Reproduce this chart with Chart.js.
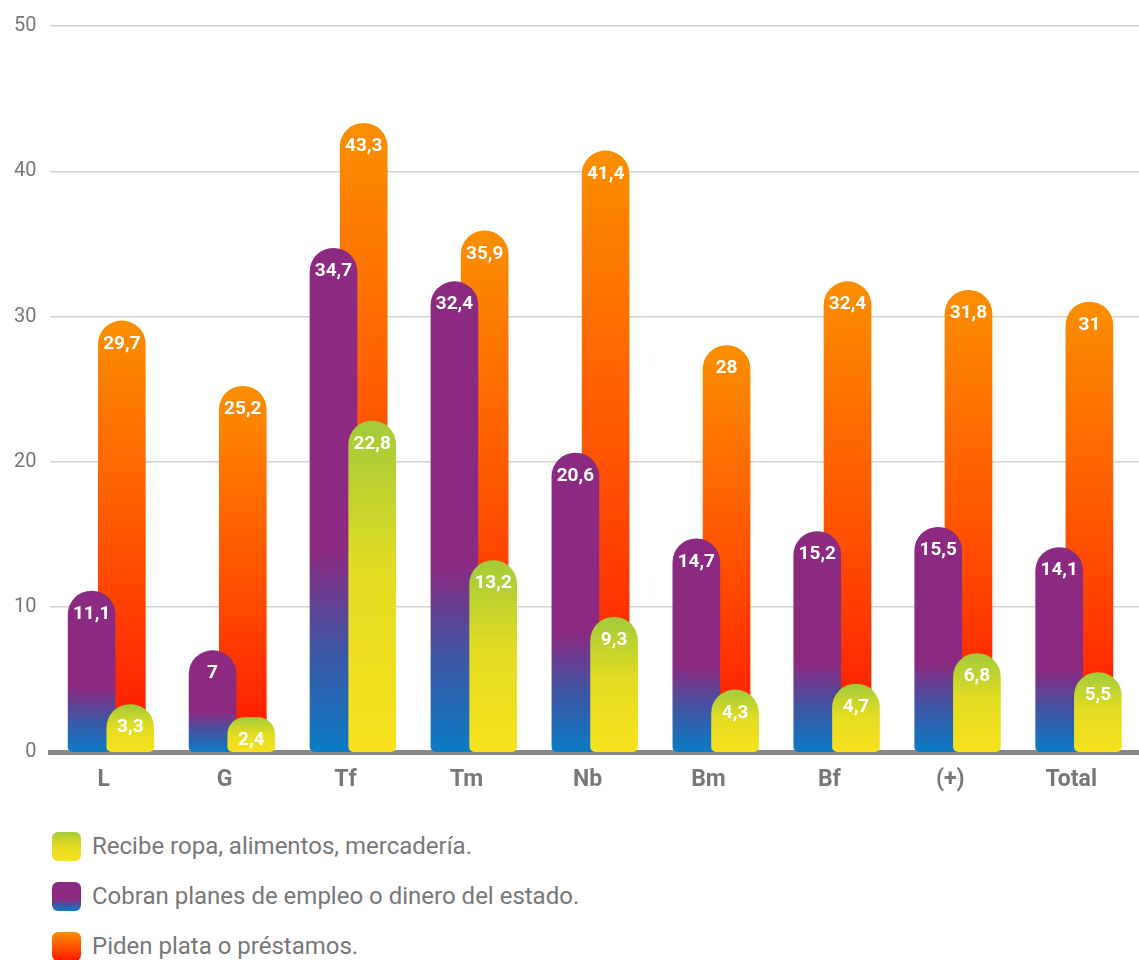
<!DOCTYPE html>
<html>
<head>
<meta charset="utf-8">
<script src="https://cdn.jsdelivr.net/npm/chart.js@4"></script>
<style>
  body { margin: 0; background: #fff; font-family: Roboto, sans-serif; }
  #wrap { position: relative; width: 1139px; height: 810px; }
  #legend { margin: 11px 0 0 52px; }
  .item { display: flex; align-items: center; height: 50px; color: #777; font-size: 24px; }
  .box { width: 29px; height: 29px; border-radius: 6px; margin-right: 11px; }
</style>
</head>
<body>
<div id="wrap"><canvas id="chart-ayudas"></canvas></div>
<div id="legend"></div>
<script>
var categories = ['L', 'G', 'Tf', 'Tm', 'Nb', 'Bm', 'Bf', '(+)', 'Total'];
var recibe = [3.3, 2.4, 22.8, 13.2, 9.3, 4.3, 4.7, 6.8, 5.5];
var cobran = [11.1, 7, 34.7, 32.4, 20.6, 14.7, 15.2, 15.5, 14.1];
var piden = [29.7, 25.2, 43.3, 35.9, 41.4, 28, 32.4, 31.8, 31];
var yTicks = [0, 10, 20, 30, 40, 50];

// colores de los degradados (abajo -> arriba)
var colRecibe = [[0, '#f8e11c'], [0.55, '#e2dc22'], [1, '#a2cb3a']];
var colCobran = [[0, '#0a7cc6'], [0.2, '#3d56a4'], [0.4, '#8b2a80'], [1, '#8b2a80']];
var colPiden = [[0, '#ff1500'], [0.5, '#ff5500'], [1, '#fb8f00']];

function barGradient(stops) {
    return function (context) {
        var chart = context.chart;
        if (!chart.chartArea || context.type !== 'data') return stops[stops.length - 1][1];
        var y = chart.scales.y;
        var top = y.getPixelForValue(context.parsed.y);
        var bottom = y.getPixelForValue(0);
        var g = chart.ctx.createLinearGradient(0, bottom, 0, top);
        stops.forEach(s => g.addColorStop(s[0], s[1]));
        return g;
    };
}

function points(values, shift) {
    return values.map((v, i) => ({ x: i + shift, y: v }));
}

var valueLabels = {
    id: 'valueLabels',
    afterDatasetDraw(chart, args) {
        var ctx = chart.ctx;
        var ds = chart.data.datasets[args.index];
        ctx.save();
        ctx.font = "bold 19px Roboto";
        ctx.fillStyle = '#ffffff';
        ctx.textAlign = 'center';
        ctx.textBaseline = 'middle';
        args.meta.data.forEach((bar, i) => {
            ctx.fillText(String(ds.data[i].y).replace('.', ','), bar.x, bar.y + 23);
        });
        ctx.restore();
    }
};

var barStyle = {
    barThickness: 47,
    borderSkipped: false,
    borderRadius: { topLeft: 24, topRight: 24, bottomLeft: 5, bottomRight: 5 },
    grouped: false
};

var canvasAyudas = document.getElementById('chart-ayudas');

var chartAyudas = new Chart(canvasAyudas.getContext('2d'), {
    type: 'bar',
    data: {
        datasets: [
            Object.assign({ label: 'Recibe ropa, alimentos, mercadería.', data: points(recibe, 0.22), backgroundColor: barGradient(colRecibe) }, barStyle),
            Object.assign({ label: 'Cobran planes de empleo o dinero del estado.', data: points(cobran, -0.1), backgroundColor: barGradient(colCobran) }, barStyle),
            Object.assign({ label: 'Piden plata o préstamos.', data: points(piden, 0.15), backgroundColor: barGradient(colPiden) }, barStyle)
        ]
    },
    plugins: [valueLabels],
    options: {
        responsive: true,
        maintainAspectRatio: false,
        animation: false,
        layout: { padding: { top: 9, right: 0, bottom: 10, left: 0 } },
        plugins: {
            legend: { display: false },
            tooltip: { enabled: false }
        },
        scales: {
            x: {
                type: 'linear',
                offset: false,
                min: -0.44,
                max: 8.56,
                z: 1,
                afterBuildTicks: axis => { axis.ticks = categories.map((c, i) => ({ value: i })); },
                ticks: {
                    callback: v => categories[v],
                    font: { family: 'Roboto', size: 23, weight: 'bold' },
                    color: '#777777',
                    padding: 6,
                    maxRotation: 0
                },
                grid: { display: false },
                border: { color: '#888888', width: 5 }
            },
            y: {
                min: 0,
                max: 50,
                afterBuildTicks: axis => { axis.ticks = yTicks.map(v => ({ value: v })); },
                ticks: {
                    font: { family: 'Roboto', size: 20 },
                    color: '#777777',
                    padding: 14
                },
                grid: { color: '#d2d2d2', lineWidth: 1.5, drawTicks: false },
                border: { display: false }
            }
        }
    }
});

var legendBoxes = [colRecibe, colCobran, colPiden];
var legendEl = document.getElementById('legend');
chartAyudas.data.datasets.forEach((ds, i) => {
    var stops = legendBoxes[i].map(s => s[1] + ' ' + (100 - s[0] * 100) + '%').reverse();
    var item = document.createElement('div');
    item.className = 'item';
    var box = document.createElement('span');
    box.className = 'box';
    box.style.background = 'linear-gradient(to bottom, ' + stops.join(', ') + ')';
    var txt = document.createElement('span');
    txt.textContent = ds.label;
    item.appendChild(box);
    item.appendChild(txt);
    legendEl.appendChild(item);
});
</script>
</body>
</html>
